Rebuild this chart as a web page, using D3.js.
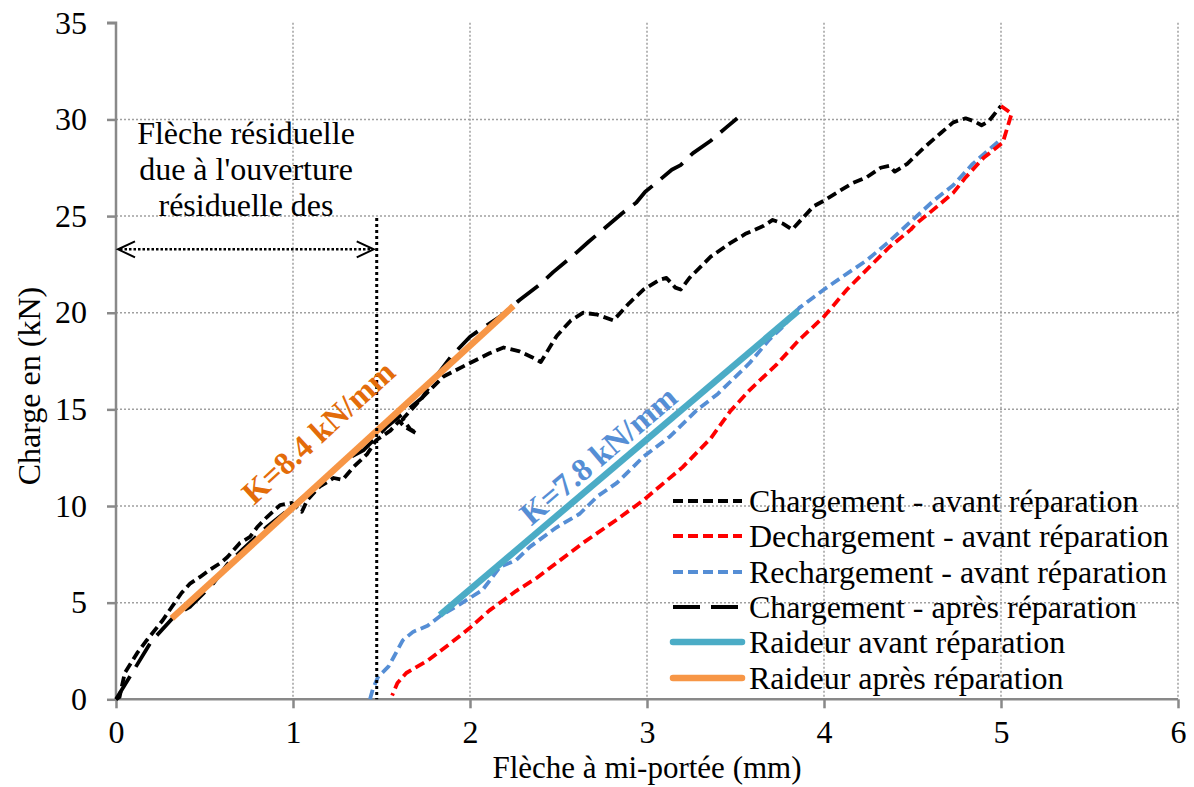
<!DOCTYPE html>
<html><head><meta charset="utf-8">
<script src="https://cdn.jsdelivr.net/npm/d3@7"></script>
<style>body{margin:0;background:#fff}svg{display:block}text{font-family:"Liberation Serif","Times New Roman",serif}</style>
</head><body><svg id="c" width="1194" height="787"></svg>
<script>
// ---- data ----
const xTicks = [0,1,2,3,4,5,6];
const yTicks = [0,5,10,15,20,25,30,35];
const seriesNames = ["Chargement - avant réparation","Dechargement - avant réparation","Rechargement - avant réparation","Chargement - après réparation","Raideur avant réparation","Raideur après réparation"];
const chargAvantX = [0,0.02,0.05,0.12,0.175,0.265,0.316,0.37,0.42,0.475,0.53,0.59,0.63,0.70,0.757,0.797,0.853,0.927,0.994,1.05,1.08,1.15,1.23,1.28,1.34,1.42,1.47,1.55,1.6,1.63,1.7,1.66,1.62,1.67,1.73,1.85,2.0,2.11,2.19,2.28,2.35,2.4,2.43,2.49,2.57,2.64,2.72,2.81,2.83,2.9,2.98,3.07,3.11,3.16,3.19,3.24,3.36,3.47,3.56,3.66,3.71,3.77,3.82,3.86,3.94,4.0,4.07,4.16,4.24,4.32,4.37,4.4,4.47,4.56,4.66,4.73,4.8,4.85,4.89,4.93,5.0];
const chargAvantY = [0,0.12,1.37,2.4,3.07,4.1,4.79,5.5,6.0,6.33,6.7,7.05,7.36,8.09,8.4,8.9,9.43,10.05,10.16,9.7,10.3,11.0,11.45,11.35,12.0,12.7,13.4,13.9,14.4,14.1,13.75,14.0,14.5,15.0,15.6,16.7,17.4,17.9,18.2,18.0,17.7,17.45,17.9,18.8,19.6,20.0,19.9,19.6,19.8,20.5,21.2,21.7,21.8,21.3,21.2,21.8,22.9,23.6,24.1,24.5,24.8,24.6,24.3,24.7,25.5,25.8,26.2,26.7,27.0,27.5,27.6,27.3,27.7,28.5,29.3,29.85,30.06,29.9,29.7,29.9,30.7];
const dechargX = [5.0,5.06,5.01,4.9,4.8,4.73,4.64,4.52,4.49,4.37,4.26,4.13,4.0,3.86,3.73,3.58,3.47,3.36,3.2,3.07,2.98,2.83,2.64,2.51,2.38,2.26,2.11,2.0,1.89,1.76,1.64,1.59,1.56];
const dechargY = [30.7,30.3,28.8,28.0,27.0,26.2,25.5,24.6,24.3,23.4,22.4,21.2,19.8,18.6,17.3,16.0,14.9,13.5,12.0,11.0,10.3,9.3,8.1,7.2,6.3,5.6,4.6,3.7,2.9,2.0,1.36,0.84,0.2];
const rechargX = [1.435,1.45,1.48,1.54,1.57,1.62,1.68,1.76,1.83,1.94,2.07,2.17,2.26,2.34,2.49,2.62,2.72,2.83,2.98,3.13,3.28,3.4,3.58,3.69,3.77,3.86,4.0,4.11,4.24,4.37,4.5,4.62,4.73,4.84,4.99];
const rechargY = [0,0.5,1.15,1.7,2.2,3.05,3.5,3.8,4.3,4.9,5.65,6.85,7.2,7.9,8.9,9.6,10.5,11.2,12.55,13.6,14.95,15.8,17.4,18.6,19.3,20.25,21.2,21.9,22.7,23.7,24.8,25.8,26.6,27.7,28.9];
const chargApresX = [0,0.08,0.2,0.33,0.42,0.55,0.63,0.72,0.85,1.0,1.15,1.3,1.4,1.53,1.73,1.8,1.89,2.0,2.07,2.17,2.28,2.4,2.47,2.6,2.67,2.79,2.86,2.94,2.99,3.06,3.14,3.19,3.26,3.36,3.45,3.51];
const chargApresY = [0,1.2,3.0,4.3,4.8,6.0,7.0,7.8,8.9,10.0,11.2,12.4,12.9,14.1,15.6,16.6,17.7,18.76,19.2,19.8,20.66,21.5,22.1,23.1,23.67,24.6,25.15,25.7,26.26,26.78,27.4,27.64,28.26,28.9,29.6,30.06];
const raidAvantX = [1.83,3.855];
const raidAvantY = [4.36,20.1];
const raidApresX = [0.315,2.245];
const raidApresY = [4.19,20.35];
const labelK84 = "K=8.4 kN/mm";
const labelK78 = "K=7.8 kN/mm";
const annotLines = ["Flèche résiduelle","due à l'ouverture","résiduelle des"];
const residualX = 1.473;
const residualTopY = 24.9;
const arrowY = 23.28;

// ---- drawing ----
const svg = d3.select("#c");
const x = d3.scaleLinear().domain([0,6]).range([116,1178]);
const y = d3.scaleLinear().domain([0,35]).range([699.3,22.8]);
const FS = 32;
const grey = "#898989";

// grid
const g = svg.append("g");
g.selectAll(".gx").data(xTicks.slice(1)).join("line")
  .attr("x1",d=>x(d)).attr("x2",d=>x(d)).attr("y1",y(35)).attr("y2",y(0))
  .attr("stroke","#a0a0a0").attr("stroke-width",1.5).attr("stroke-dasharray","2,2");
g.selectAll(".gy").data(yTicks.slice(1,-1)).join("line")
  .attr("x1",x(0)).attr("x2",x(6)).attr("y1",d=>y(d)).attr("y2",d=>y(d))
  .attr("stroke","#a0a0a0").attr("stroke-width",1.5).attr("stroke-dasharray","2,2");

// axes
const ax = svg.append("g").attr("transform",`translate(0,${y(0)})`)
  .call(d3.axisBottom(x).tickValues(xTicks).tickSize(9).tickPadding(12).tickFormat(d3.format("d")));
const ay = svg.append("g").attr("transform",`translate(${x(0)},0)`)
  .call(d3.axisLeft(y).tickValues(yTicks).tickSize(9).tickPadding(20).tickFormat(d3.format("d")));
[ax,ay].forEach(a=>{
  a.select(".domain").attr("stroke",grey).attr("stroke-width",2.5);
  a.selectAll(".tick line").attr("stroke",grey).attr("stroke-width",2.5);
  a.selectAll(".tick text").attr("font-size",FS).attr("fill","#000").attr("font-family","Liberation Serif");
});
ay.select(".domain").attr("d",`M-9,${y(35)}H0V${y(0)}`);
ax.select(".domain").attr("d",`M${x(0)},0H${x(6)}`);

svg.append("text").attr("x",(x(0)+x(6))/2).attr("y",778).attr("text-anchor","middle")
  .attr("font-size",31).text("Flèche à mi-portée (mm)");
svg.append("text").attr("transform",`translate(40,${(y(0)+y(35))/2+25}) rotate(-90)`).attr("text-anchor","middle")
  .attr("font-size",FS).text("Charge en (kN)");

// series
const mk = (xs,ys)=>xs.map((v,i)=>[v,ys[i]]);
const line = d3.line().x(d=>x(d[0])).y(d=>y(d[1]));
const styles = [
  {data:mk(chargAvantX,chargAvantY), color:"#000", w:3.8, dash:"10,5"},
  {data:mk(dechargX,dechargY), color:"#FF0000", w:3.8, dash:"10,5"},
  {data:mk(rechargX,rechargY), color:"#558ED5", w:3.8, dash:"10,5"},
  {data:mk(chargApresX,chargApresY), color:"#000", w:3.8, dash:"27,11"},
  {data:mk(raidAvantX,raidAvantY), color:"#4BACC6", w:6.5, dash:null},
  {data:mk(raidApresX,raidApresY), color:"#F79646", w:6.5, dash:null}
];
const order = [3,0,2,1,4,5];
order.forEach(i=>{
  const s = styles[i];
  svg.append("path").attr("d",line(s.data)).attr("fill","none").attr("stroke",s.color)
    .attr("stroke-width",s.w).attr("stroke-dasharray",s.dash).attr("stroke-linejoin","round");
});

// residual annotation
svg.append("line").attr("x1",x(residualX)).attr("x2",x(residualX)).attr("y1",y(residualTopY)).attr("y2",y(0))
  .attr("stroke","#000").attr("stroke-width",3).attr("stroke-dasharray","3,3");
const ay0 = y(arrowY), axL = x(0)+2, axR = x(residualX)-3;
svg.append("line").attr("x1",axL+2).attr("x2",axR-2).attr("y1",ay0).attr("y2",ay0)
  .attr("stroke","#000").attr("stroke-width",2.5).attr("stroke-dasharray","2.5,2");
svg.append("path").attr("d",`M${axL+17},${ay0-8}L${axL},${ay0}L${axL+17},${ay0+8}`).attr("fill","none").attr("stroke","#000").attr("stroke-width",2);
svg.append("path").attr("d",`M${axR-17},${ay0-8}L${axR},${ay0}L${axR-17},${ay0+8}`).attr("fill","none").attr("stroke","#000").attr("stroke-width",2);
svg.append("g").selectAll("text").data(annotLines).join("text")
  .attr("x",246).attr("y",(d,i)=>144+i*36).attr("text-anchor","middle").attr("font-size",FS).text(d=>d);

// K labels
const ang1 = Math.atan2(y(raidApresY[1])-y(raidApresY[0]), x(raidApresX[1])-x(raidApresX[0]))*180/Math.PI;
const ang2 = Math.atan2(y(raidAvantY[1])-y(raidAvantY[0]), x(raidAvantX[1])-x(raidAvantX[0]))*180/Math.PI;
svg.append("text").attr("transform",`translate(318,432) rotate(${ang1})`).attr("text-anchor","middle").attr("dy","0.35em")
  .attr("font-size",32).attr("font-weight","bold").attr("fill","#E36C09").text(labelK84);
svg.append("text").attr("transform",`translate(598,455) rotate(${ang2})`).attr("text-anchor","middle").attr("dy","0.35em")
  .attr("font-size",32).attr("font-weight","bold").attr("fill","#558ED5").text(labelK78);

// legend
const lg = svg.append("g");
const rowY = [501,536,572,607,642,678];
seriesNames.forEach((n,i)=>{
  const s = styles[i];
  lg.append("line").attr("x1",673).attr("x2",742).attr("y1",rowY[i]).attr("y2",rowY[i])
    .attr("stroke",s.color).attr("stroke-width",s.w).attr("stroke-dasharray",s.dash)
    .attr("stroke-linecap",s.dash?"butt":"round");
  lg.append("text").attr("x",749).attr("y",rowY[i]).attr("dy","0.33em").attr("font-size",FS).text(n);
});
</script></body></html>
